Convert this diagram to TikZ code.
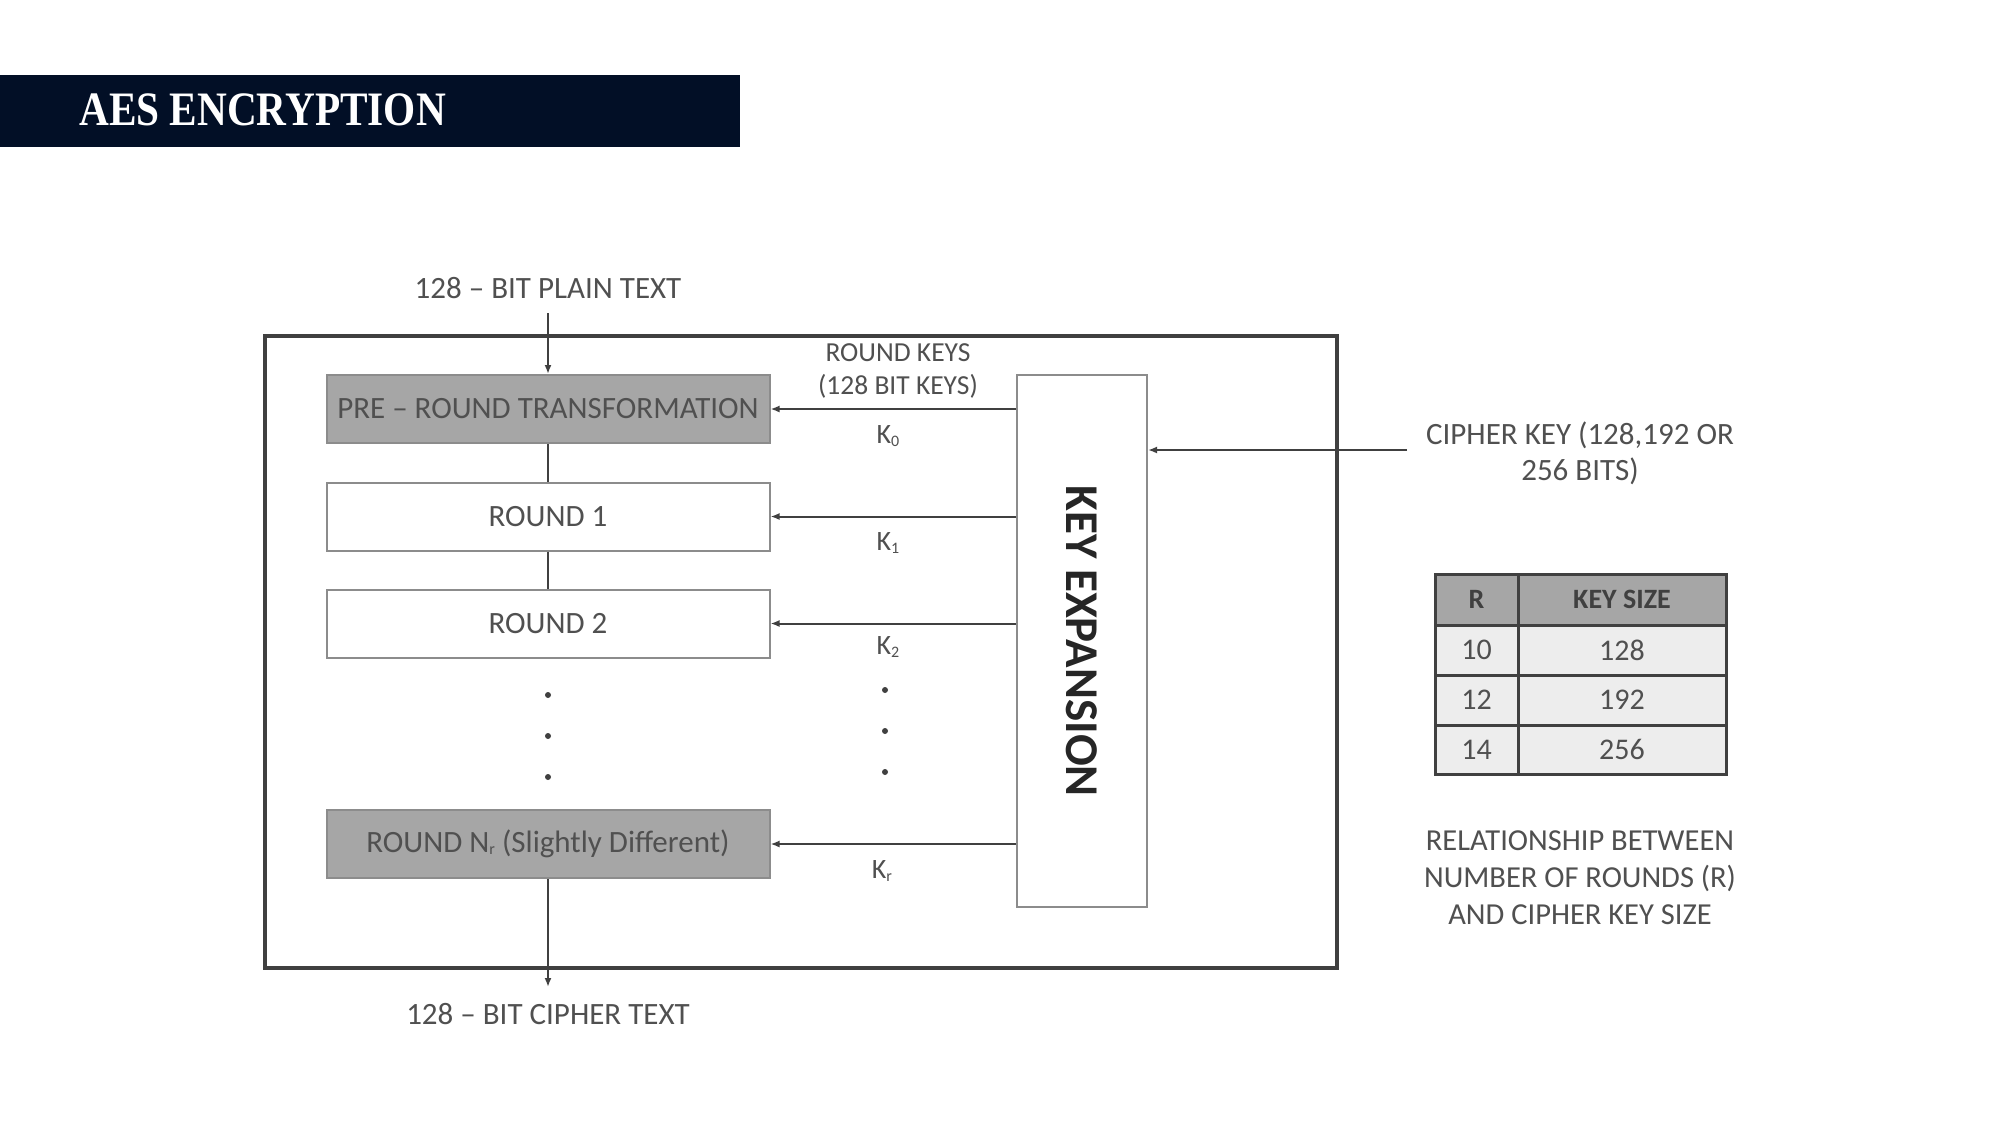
\documentclass[tikz,border=0pt]{standalone}
\usepackage{fontspec}
\setmainfont{Carlito}
\newfontfamily\titlefont{Liberation Serif}
\usetikzlibrary{arrows.meta}
\definecolor{navy}{HTML}{020F26}
\definecolor{txt}{HTML}{505050}
\definecolor{ln}{HTML}{404040}
\definecolor{bx}{HTML}{8C8C8C}
\definecolor{gfill}{HTML}{A6A6A6}
\definecolor{tfill}{HTML}{EDEDED}
\begin{document}
\begin{tikzpicture}[x=1pt,y=-1pt,
  lbl/.style={text=txt,font=\fontsize{31}{36}\selectfont,inner sep=0pt,align=center},
  stage/.style={draw=bx,line width=2pt,minimum width=443pt,minimum height=68pt,inner sep=0pt,text=txt,font=\fontsize{31}{36}\selectfont},
  greystage/.style={stage,fill=gfill},
  whitestage/.style={stage,fill=white},
  conn/.style={draw=ln,line width=2pt},
  arr/.style={conn,-{Latex[length=9pt,width=7pt]}},
  dotn/.style={circle,fill=ln,inner sep=0pt,minimum size=6pt},
  klbl/.style={text=txt,font=\fontsize{28}{30}\selectfont,inner sep=0pt},
  tcell/.style={draw=ln,line width=3pt,inner sep=0pt,text=txt,font=\fontsize{30}{36}\selectfont},
]
\fill[white] (0,0) rectangle (2000,1125);
\useasboundingbox (0,0) rectangle (2000,1125);

% title bar
\node[fill=navy,anchor=north west,minimum width=740pt,minimum height=72pt,inner sep=0pt] (bar) at (0,75) {};
\node[anchor=west,text=white,inner sep=0pt,font=\titlefont\bfseries\fontsize{48}{48}\selectfont] (title) at (79,110) {\scalebox{0.86}[1]{AES ENCRYPTION}};

% outer frame
\node[draw=ln,line width=3.5pt,anchor=north west,minimum width=1072pt,minimum height=632pt,inner sep=0pt] (frame) at (263,334) {};

% stages
\node[greystage] (pre) at (548,409) {PRE -- ROUND TRANSFORMATION};
\node[whitestage] (r1) at (548,516.5) {ROUND 1};
\node[whitestage] (r2) at (548,623.5) {ROUND 2};
\node[greystage] (rn) at (548,844) {ROUND N{\fontsize{16}{16}\selectfont\raisebox{-2pt}{r}} (Slightly Different)};

% key expansion
\node[draw=bx,line width=2pt,fill=white,minimum width=130pt,minimum height=532pt,inner sep=0pt] (kx) at (1082,641) {};
\node[rotate=-90,inner sep=0pt,text=black!85,font=\bfseries\fontsize{47}{47}\selectfont] (kxl) at (1082,641) {KEY EXPANSION};

% texts
\node[lbl] (ptext) at (548,288) {128 -- BIT PLAIN TEXT};
\node[lbl] (ctext) at (548,1014) {128 -- BIT CIPHER TEXT};
\coordinate (pstart) at (548,313);
\coordinate (ctip) at (548,987);
\node[lbl,font=\fontsize{27.5}{33}\selectfont] (rk) at (898,371) {ROUND KEYS\\(128 BIT KEYS)};

% connectors
\draw[arr] (pstart) -- (pre.north);
\draw[conn] (pre.south) -- (r1.north);
\draw[conn] (r1.south) -- (r2.north);
\draw[arr] (rn.south) -- (ctip);

\draw[arr] (kx.west |- pre) -- (pre.east);
\draw[arr] (kx.west |- r1) -- (r1.east);
\draw[arr] (kx.west |- r2) -- (r2.east);
\draw[arr] (kx.west |- rn) -- (rn.east);

\node[klbl] (k0) at (888,436) {K{\fontsize{16}{16}\selectfont\raisebox{-3pt}{0}}};
\node[klbl] (k1) at (888,543) {K{\fontsize{16}{16}\selectfont\raisebox{-3pt}{1}}};
\node[klbl] (k2) at (888,647) {K{\fontsize{16}{16}\selectfont\raisebox{-3pt}{2}}};
\node[klbl] (kr) at (882,871) {K{\fontsize{16}{16}\selectfont\raisebox{-3pt}{r}}};

% dots
\node[dotn] (d1) at (548,695) {};
\node[dotn] (d2) at (548,736) {};
\node[dotn] (d3) at (548,777) {};
\node[dotn] (e1) at (885,690) {};
\node[dotn] (e2) at (885,731) {};
\node[dotn] (e3) at (885,772) {};

% cipher key
\node[lbl] (ck) at (1580,453) {CIPHER KEY (128,192 OR\\256 BITS)};
\coordinate (ckstart) at (1407,450);
\draw[arr] (ckstart) -- (kx.east |- ckstart);

% table
\node[tcell,fill=gfill,minimum width=83pt,minimum height=51pt,text=ln,font=\bfseries\fontsize{28}{30}\selectfont] (h1) at (1476.5,599.5) {R};
\node[tcell,fill=gfill,minimum width=208pt,minimum height=51pt,text=ln,font=\bfseries\fontsize{28}{30}\selectfont] (h2) at (1622,599.5) {KEY SIZE};
\node[tcell,fill=tfill,minimum width=83pt,minimum height=50pt] (a1) at (1476.5,650) {10};
\node[tcell,fill=tfill,minimum width=208pt,minimum height=50pt] (a2) at (1622,650) {128};
\node[tcell,fill=tfill,minimum width=83pt,minimum height=50pt] (b1) at (1476.5,700) {12};
\node[tcell,fill=tfill,minimum width=208pt,minimum height=50pt] (b2) at (1622,700) {192};
\node[tcell,fill=tfill,minimum width=83pt,minimum height=49pt] (c1) at (1476.5,749.5) {14};
\node[tcell,fill=tfill,minimum width=208pt,minimum height=49pt] (c2) at (1622,749.5) {256};

\node[lbl,font=\fontsize{30.5}{37}\selectfont] (cap) at (1580,878) {RELATIONSHIP BETWEEN\\NUMBER OF ROUNDS (R)\\AND CIPHER KEY SIZE};
\end{tikzpicture}
\end{document}
